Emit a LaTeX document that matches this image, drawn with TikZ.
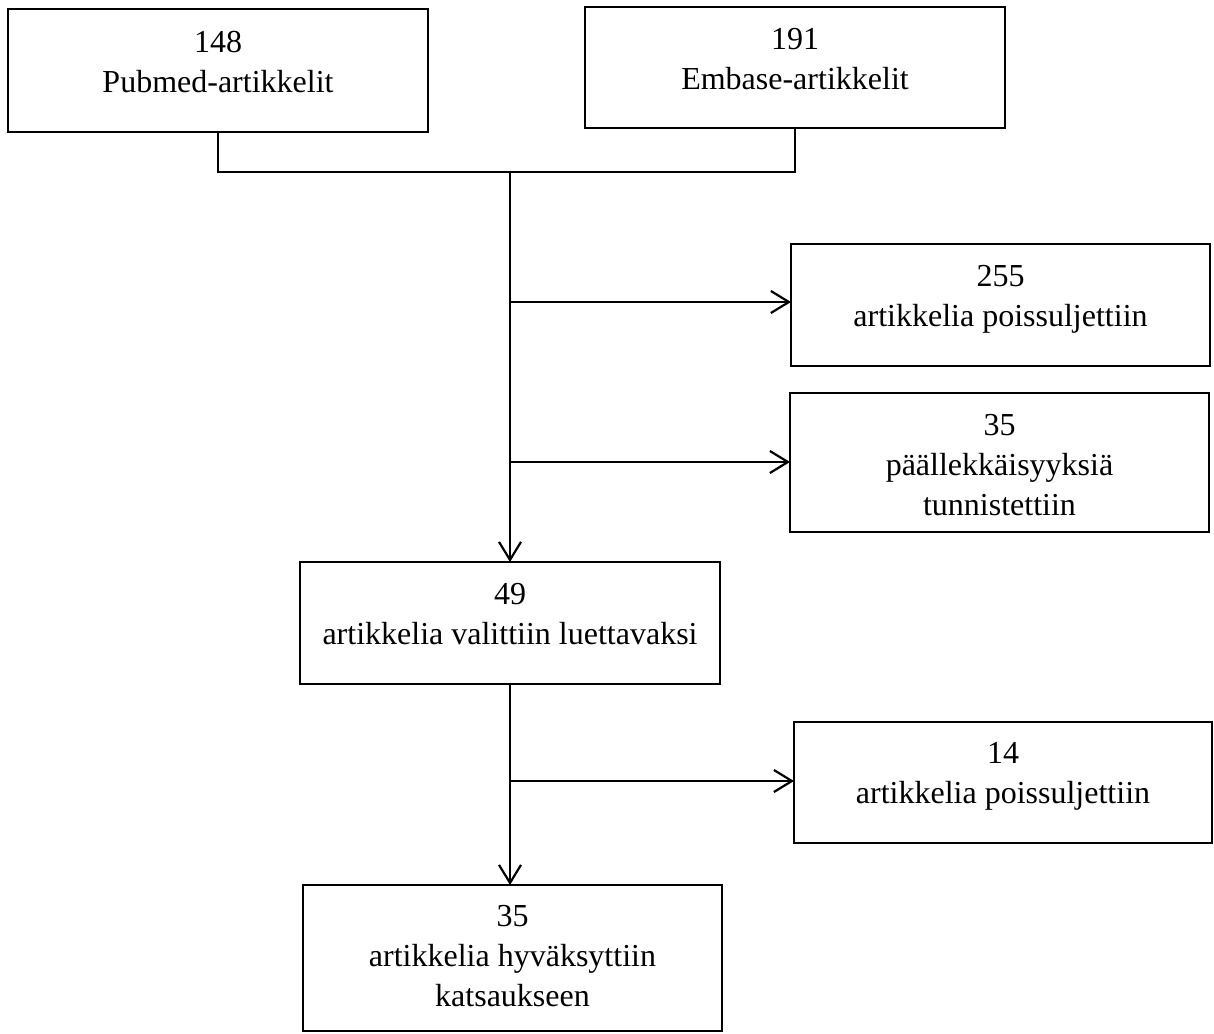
\documentclass[tikz,border=0pt]{standalone}
\usepackage{fontspec}
\setmainfont{Liberation Serif}
\usetikzlibrary{arrows.meta}
\begin{document}
\begin{tikzpicture}[x=1pt,y=-1pt,
  box/.style={draw, line width=2.4pt, outer sep=0pt, inner sep=0pt, rectangle},
  txt/.style={anchor=north, align=center, inner sep=0pt, font=\fontsize{32}{40}\selectfont},
  conn/.style={line width=2.2pt},
  arr/.style={conn, -{Straight Barb[length=18pt,width=22pt]}}]
\useasboundingbox (0,0) rectangle (1214,1033);
\node[box, minimum width=420pt, minimum height=123pt] (b1) at (218,70.5) {};
\node[box, minimum width=420pt, minimum height=121pt] (b2) at (795,67.5) {};
\node[box, minimum width=419pt, minimum height=122pt] (b3) at (1000.5,305) {};
\node[box, minimum width=419pt, minimum height=139pt] (b4) at (999.5,462.5) {};
\node[box, minimum width=420pt, minimum height=122pt] (b5) at (510,623) {};
\node[box, minimum width=418pt, minimum height=121pt] (b6) at (1003,782.5) {};
\node[box, minimum width=419pt, minimum height=146pt] (b7) at (512.5,958) {};
\node[txt] (t1) at ([yshift=-22pt]b1.north) {148\\Pubmed-artikkelit};
\node[txt] (t2) at ([yshift=-21pt]b2.north) {191\\Embase-artikkelit};
\node[txt] (t3) at ([yshift=-21pt]b3.north) {255\\artikkelia poissuljettiin};
\node[txt] (t4) at ([yshift=-21pt]b4.north) {35\\päällekkäisyyksiä\\tunnistettiin};
\node[txt] (t5) at ([yshift=-21pt]b5.north) {49\\artikkelia valittiin luettavaksi};
\node[txt] (t6) at ([yshift=-20pt]b6.north) {14\\artikkelia poissuljettiin};
\node[txt] (t7) at ([yshift=-20pt]b7.north) {35\\artikkelia hyväksyttiin\\katsaukseen};
\coordinate (j) at (b5.north |- 0,172);
\coordinate (s1) at (b5.north |- 0,302);
\coordinate (s2) at (b5.north |- 0,462);
\coordinate (s3) at (b5.south |- 0,781);
\draw[conn] (b1.south) |- (j) -| (b2.south);
\draw[arr] (j) -- (b5.north);
\draw[arr] (s1) -- (b3.west |- s1);
\draw[arr] (s2) -- (b4.west |- s2);
\draw[arr] (b5.south) -- (b7.north -| b5.south);
\draw[arr] (s3) -- (b6.west |- s3);
\end{tikzpicture}
\end{document}
